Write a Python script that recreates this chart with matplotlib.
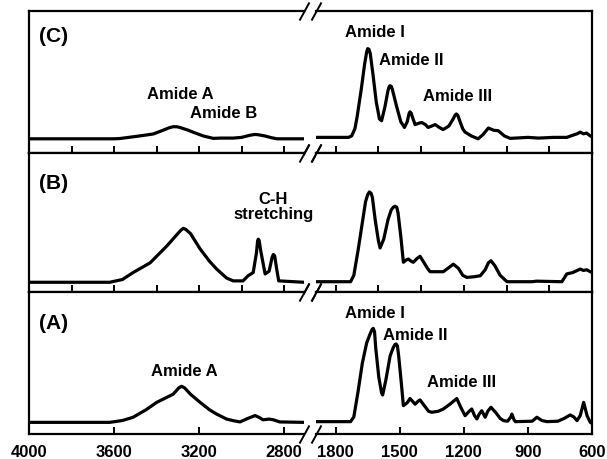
import matplotlib
matplotlib.use("Agg")
import matplotlib.pyplot as plt
from matplotlib.ticker import FixedLocator, NullFormatter

plt.rcParams['font.family'] = ['Liberation Sans', 'DejaVu Sans']
plt.rcParams['font.weight'] = 'bold'

# ---------------- data (wavenumber, relative intensity) ----------------
# Panel C
c_left_wn = [4000, 3600, 3572, 3480, 3415, 3370, 3340, 3322, 3305, 3290, 3250, 3227, 3180, 3133, 3100, 3039, 3000, 2960, 2940, 2929, 2915, 2890, 2860, 2834, 2706]
c_left_y = [0.10, 0.10, 0.102, 0.12, 0.134, 0.16, 0.178, 0.185, 0.185, 0.18, 0.16, 0.146, 0.12, 0.103, 0.105, 0.105, 0.11, 0.125, 0.13, 0.13, 0.127, 0.12, 0.108, 0.10, 0.10]
c_right_wn = [1892, 1740, 1725, 1710, 1700, 1680, 1665, 1655, 1650, 1644, 1638, 1625, 1610, 1595, 1585, 1570, 1555, 1550, 1546, 1540, 1535, 1515, 1495, 1478, 1465, 1456, 1452, 1446, 1440, 1428, 1410, 1397, 1380, 1367, 1350, 1334, 1315, 1297, 1270, 1250, 1240, 1235, 1228, 1220, 1205, 1194, 1165, 1133, 1110, 1085, 1060, 1039, 1010, 983, 900, 850, 780, 718, 690, 670, 655, 640, 625, 608, 600]
c_right_y = [0.11, 0.11, 0.12, 0.17, 0.25, 0.45, 0.62, 0.71, 0.735, 0.73, 0.70, 0.55, 0.36, 0.24, 0.227, 0.32, 0.44, 0.465, 0.474, 0.47, 0.45, 0.33, 0.22, 0.18, 0.22, 0.28, 0.29, 0.28, 0.25, 0.20, 0.21, 0.215, 0.20, 0.18, 0.19, 0.20, 0.18, 0.165, 0.19, 0.24, 0.268, 0.275, 0.265, 0.23, 0.17, 0.147, 0.12, 0.10, 0.13, 0.176, 0.16, 0.157, 0.12, 0.103, 0.11, 0.105, 0.11, 0.11, 0.125, 0.135, 0.147, 0.135, 0.14, 0.12, 0.115]

# Panel B
b_left_wn = [4000, 3620, 3560, 3510, 3430, 3352, 3300, 3285, 3274, 3262, 3240, 3195, 3150, 3117, 3070, 3039, 2993, 2969, 2945, 2930, 2924, 2921, 2917, 2910, 2889, 2870, 2856, 2850, 2844, 2835, 2825, 2706]
b_left_y = [0.07, 0.07, 0.09, 0.14, 0.21, 0.33, 0.42, 0.445, 0.458, 0.45, 0.42, 0.31, 0.22, 0.165, 0.10, 0.08, 0.08, 0.117, 0.14, 0.28, 0.37, 0.38, 0.37, 0.30, 0.13, 0.15, 0.25, 0.27, 0.26, 0.17, 0.08, 0.07]
b_right_wn = [1892, 1730, 1715, 1695, 1675, 1660, 1650, 1642, 1634, 1628, 1615, 1600, 1592, 1575, 1555, 1540, 1530, 1522, 1514, 1508, 1495, 1483, 1470, 1460, 1445, 1436, 1420, 1405, 1390, 1370, 1358, 1296, 1275, 1249, 1225, 1205, 1186, 1150, 1123, 1100, 1085, 1073, 1055, 1030, 998, 880, 860, 741, 718, 690, 655, 640, 625, 608, 600]
b_right_y = [0.074, 0.074, 0.12, 0.30, 0.50, 0.65, 0.70, 0.72, 0.71, 0.68, 0.52, 0.37, 0.317, 0.38, 0.52, 0.59, 0.61, 0.617, 0.61, 0.57, 0.40, 0.214, 0.23, 0.237, 0.22, 0.214, 0.24, 0.257, 0.22, 0.17, 0.146, 0.146, 0.17, 0.20, 0.17, 0.12, 0.105, 0.11, 0.117, 0.16, 0.21, 0.225, 0.19, 0.12, 0.074, 0.074, 0.078, 0.074, 0.13, 0.14, 0.165, 0.155, 0.16, 0.146, 0.14]

# Panel A
a_left_wn = [4000, 3620, 3560, 3510, 3450, 3399, 3322, 3295, 3282, 3268, 3240, 3195, 3150, 3117, 3070, 3039, 3007, 2970, 2936, 2915, 2899, 2870, 2850, 2820, 2706]
a_left_y = [0.082, 0.082, 0.095, 0.118, 0.17, 0.223, 0.28, 0.325, 0.336, 0.325, 0.28, 0.223, 0.17, 0.14, 0.105, 0.094, 0.085, 0.11, 0.13, 0.115, 0.10, 0.105, 0.10, 0.085, 0.082]
a_right_wn = [1892, 1730, 1715, 1695, 1675, 1655, 1640, 1630, 1624, 1618, 1612, 1598, 1585, 1580, 1565, 1545, 1530, 1522, 1517, 1511, 1505, 1492, 1483, 1465, 1452, 1440, 1428, 1415, 1405, 1385, 1365, 1350, 1320, 1296, 1265, 1233, 1215, 1194, 1175, 1163, 1150, 1139, 1128, 1116, 1100, 1088, 1073, 1050, 1030, 1014, 995, 980, 975, 965, 959, 880, 858, 835, 811, 760, 730, 702, 685, 670, 655, 639, 623, 608, 600]
a_right_y = [0.087, 0.087, 0.12, 0.30, 0.50, 0.64, 0.70, 0.735, 0.744, 0.72, 0.60, 0.40, 0.29, 0.275, 0.38, 0.55, 0.61, 0.63, 0.634, 0.62, 0.55, 0.35, 0.20, 0.22, 0.25, 0.23, 0.21, 0.23, 0.24, 0.20, 0.16, 0.153, 0.16, 0.176, 0.21, 0.25, 0.19, 0.129, 0.16, 0.176, 0.13, 0.106, 0.14, 0.164, 0.118, 0.16, 0.188, 0.15, 0.11, 0.094, 0.09, 0.12, 0.14, 0.10, 0.087, 0.09, 0.118, 0.095, 0.087, 0.09, 0.11, 0.134, 0.12, 0.094, 0.13, 0.223, 0.129, 0.082, 0.075]

panel_labels = ["(C)", "(B)", "(A)"]
left_labels = [4000, 3600, 3200, 2800]
right_labels = [1800, 1500, 1200, 900, 600]
left_minor = [4000, 3800, 3600, 3400, 3200, 3000, 2800]
right_minor = [1800, 1600, 1400, 1200, 1000, 800, 600]

# annotations: (panel index, side, text, x(wn), y)
annotations = [
    (0, 'L', "Amide A", 3286, 0.42),
    (0, 'L', "Amide B", 3082, 0.287),
    (0, 'R', "Amide I", 1617, 0.857),
    (0, 'R', "Amide II", 1444, 0.655),
    (0, 'R', "Amide III", 1228, 0.404),
    (1, 'L', "C-H\nstretching", 2850, 0.619),
    (2, 'L', "Amide A", 3271, 0.446),
    (2, 'R', "Amide I", 1616, 0.857),
    (2, 'R', "Amide II", 1427, 0.704),
    (2, 'R', "Amide III", 1211, 0.368),
]

data = [
    (c_left_wn, c_left_y, c_right_wn, c_right_y),
    (b_left_wn, b_left_y, b_right_wn, b_right_y),
    (a_left_wn, a_left_y, a_right_wn, a_right_y),
]

# ---------------- layout ----------------
W, H = 607, 460
fig = plt.figure(figsize=(W / 100, H / 100), dpi=100)

tops = [12, 154, 293]
bottoms = [154, 293, 435]
lx0, lx1 = 29, 304
rx0, rx1 = 316, 592

lw_spine = 1.6
axes = []
for i in range(3):
    y0 = 1 - bottoms[i] / H
    h = (bottoms[i] - tops[i]) / H
    axL = fig.add_axes([lx0 / W, y0, (lx1 - lx0) / W, h])
    axR = fig.add_axes([rx0 / W, y0, (rx1 - rx0) / W, h])
    lwn, ly, rwn, ry = data[i]
    axL.plot(lwn, ly, color='black', lw=2.3, solid_joinstyle='round')
    axR.plot(rwn, ry, color='black', lw=2.3, solid_joinstyle='round')
    axL.set_xlim(4000, 2706)
    axR.set_xlim(1892, 600)
    for ax in (axL, axR):
        ax.set_ylim(0, 1)
        ax.set_yticks([])
        for s in ax.spines.values():
            s.set_linewidth(lw_spine)
        ax.tick_params(axis='x', direction='in', length=5, width=1.4,
                       top=False, bottom=True, labelsize=12, pad=7)
    axL.spines['right'].set_visible(False)
    axR.spines['left'].set_visible(False)
    if i < 2:
        axL.xaxis.set_major_locator(FixedLocator(left_minor))
        axR.xaxis.set_major_locator(FixedLocator(right_minor))
        axL.xaxis.set_major_formatter(NullFormatter())
        axR.xaxis.set_major_formatter(NullFormatter())
    else:
        axL.set_xticks(left_labels)
        axL.set_xticklabels([str(v) for v in left_labels], fontweight='bold', fontsize=12)
        axR.set_xticks(right_labels)
        axR.set_xticklabels([str(v) for v in right_labels], fontweight='bold', fontsize=12)
    # break marks
    kw = dict(marker=[(-0.55, -1), (0.55, 1)], markersize=13, linestyle='none',
              color='k', mec='k', mew=1.4, clip_on=False)
    axL.plot([1, 1], [0, 1], transform=axL.transAxes, **kw)
    axR.plot([0, 0], [0, 1], transform=axR.transAxes, **kw)
    axL.text(0.09, [0.83, 0.79, 0.787][i], panel_labels[i], transform=axL.transAxes,
             fontsize=15, fontweight='bold', ha='center', va='center')
    axes.append((axL, axR))

for (pi, side, txt, x, y) in annotations:
    ax = axes[pi][0] if side == 'L' else axes[pi][1]
    ax.text(x, y, txt, fontsize=12, fontweight='bold', ha='center', va='center',
            multialignment='center', linespacing=1.05)

fig.savefig("out.png", dpi=100)
